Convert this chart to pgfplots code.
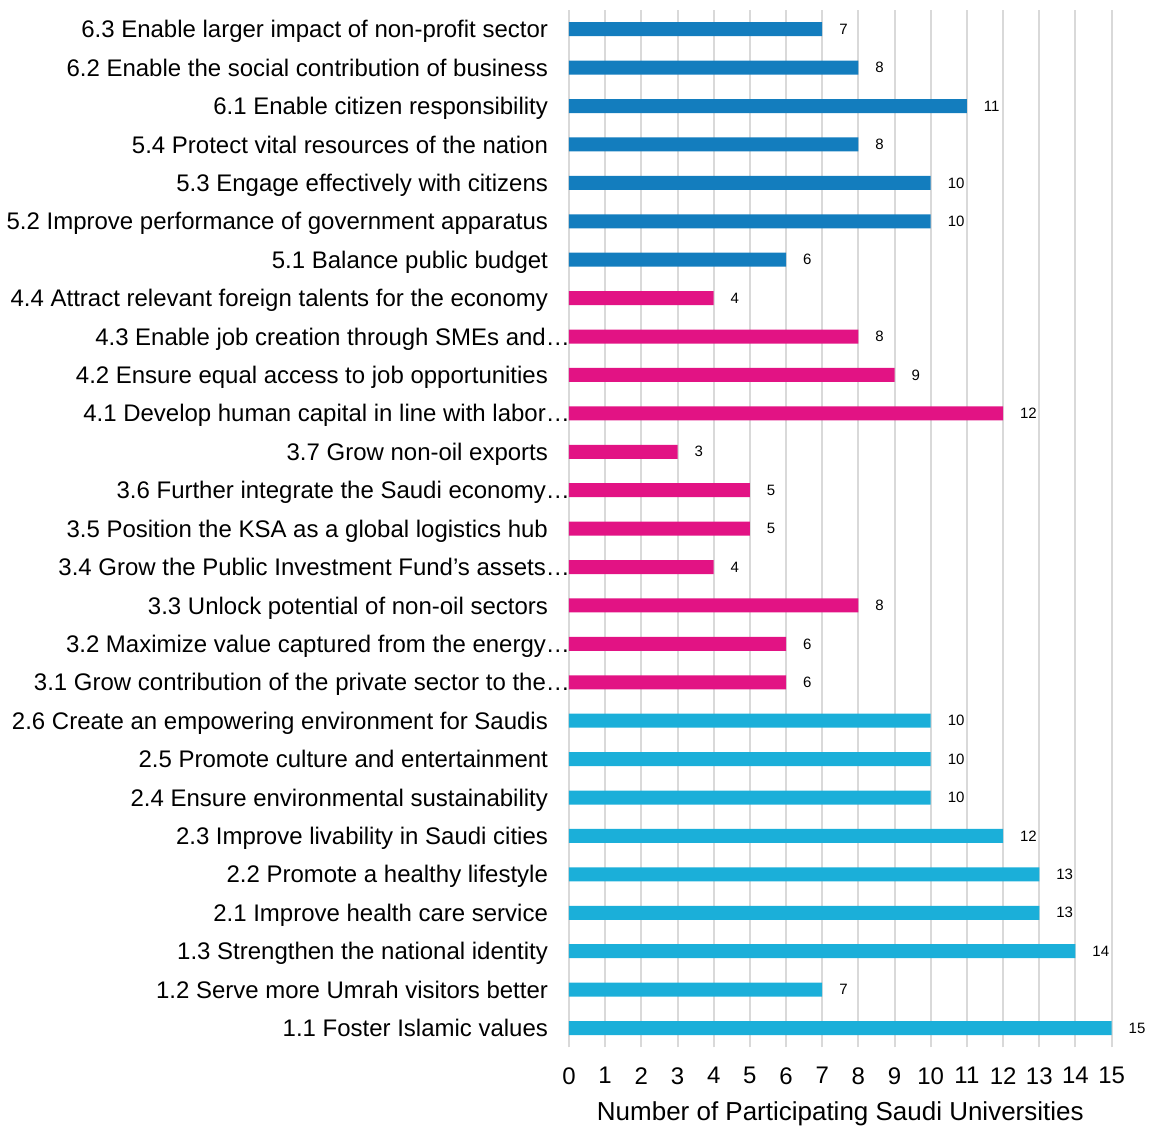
\documentclass[border=0pt]{standalone}
\usepackage{fontspec}
\setmainfont{Liberation Sans}
\usepackage{pgfplots}
\pgfplotsset{compat=1.18}
\definecolor{cA}{HTML}{1BAFD9}
\definecolor{cB}{HTML}{E21384}
\definecolor{cC}{HTML}{137DBE}
\definecolor{gridc}{HTML}{D9D9D9}
\newcommand{\trunc}[1]{#1\kern-11pt}
\begin{document}
\begin{tikzpicture}
\begin{axis}[
  scale only axis,
  width=271.5pt, height=519pt,
  xbar, bar width=7pt, bar shift=0pt,
  xmin=0, xmax=15, ymin=-0.5, ymax=26.5,
  xtick={0,1,...,15},
  ytick={0,1,...,26},
  yticklabels={
    1.1 Foster Islamic values,
    1.2 Serve more Umrah visitors better,
    1.3 Strengthen the national identity,
    2.1 Improve health care service,
    2.2 Promote a healthy lifestyle,
    2.3 Improve livability in Saudi cities,
    2.4 Ensure environmental sustainability,
    2.5 Promote culture and entertainment,
    2.6 Create an empowering environment for Saudis,
    \trunc{3.1 Grow contribution of the private sector to the…},
    \trunc{3.2 Maximize value captured from the energy…},
    3.3 Unlock potential of non-oil sectors,
    \trunc{3.4 Grow the Public Investment Fund's assets…},
    3.5 Position the KSA as a global logistics hub,
    \trunc{3.6 Further integrate the Saudi economy…},
    3.7 Grow non-oil exports,
    \trunc{4.1 Develop human capital in line with labor…},
    4.2 Ensure equal access to job opportunities,
    \trunc{4.3 Enable job creation through SMEs and…},
    4.4 Attract relevant foreign talents for the economy,
    5.1 Balance public budget,
    5.2 Improve performance of government apparatus,
    5.3 Engage effectively with citizens,
    5.4 Protect vital resources of the nation,
    6.1 Enable citizen responsibility,
    6.2 Enable the social contribution of business,
    6.3 Enable larger impact of non-profit sector},
  yticklabel style={font=\fontsize{12pt}{13pt}\selectfont, anchor=east, xshift=-7pt, text height=8.6pt, text depth=0pt},
  xticklabel style={font=\fontsize{12pt}{14pt}\selectfont, yshift=-6.5pt},
  /pgf/number format/assume math mode=true,
  xlabel={Number of Participating Saudi Universities},
  xlabel style={font=\fontsize{13pt}{15pt}\selectfont, yshift=-2pt},
  major tick length=0pt,
  axis line style={draw=none},
  xmajorgrids, grid style={gridc, line width=1pt},
  nodes near coords,
  nodes near coords style={font=\fontsize{7.5pt}{9pt}\selectfont, anchor=west, xshift=5pt, text=black},
  every axis plot/.append style={draw=none},
  clip=false,
]
\addplot[fill=cA] coordinates {(15,0) (7,1) (14,2) (13,3) (13,4) (12,5) (10,6) (10,7) (10,8)};
\addplot[fill=cB] coordinates {(6,9) (6,10) (8,11) (4,12) (5,13) (5,14) (3,15) (12,16) (9,17) (8,18) (4,19)};
\addplot[fill=cC] coordinates {(6,20) (10,21) (10,22) (8,23) (11,24) (8,25) (7,26)};
\end{axis}
\path (current axis.north) ++(0,5pt);
\end{tikzpicture}
\end{document}
